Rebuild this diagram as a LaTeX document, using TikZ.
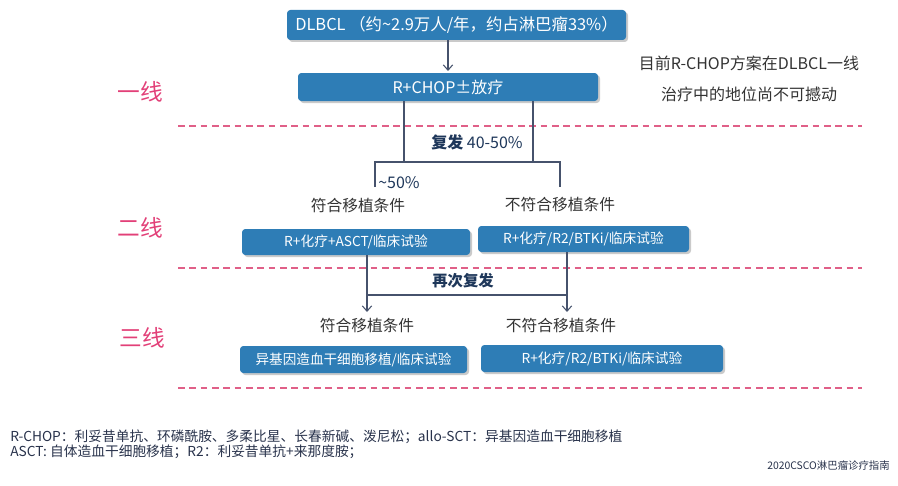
\documentclass[tikz,border=0pt]{standalone}
\usepackage{fontspec}
\setmainfont{Noto Sans CJK SC}
\usetikzlibrary{shadows,arrows.meta}
\definecolor{boxblue}{RGB}{46,125,182}
\definecolor{linecol}{RGB}{70,82,108}
\definecolor{pinktxt}{RGB}{226,64,120}
\definecolor{pinkdash}{RGB}{224,96,136}
\definecolor{navytxt}{RGB}{30,55,90}
\definecolor{foottxt}{RGB}{40,50,75}
\tikzset{
  bluebox/.style={rectangle, rounded corners=2.5pt, fill=boxblue, text=white,
    inner sep=0pt, drop shadow={shadow xshift=1.5pt, shadow yshift=-1.5pt, opacity=0.35, fill=black!60}},
  conn/.style={draw=linecol, line width=0.8pt},
  arr/.style={conn, -{Straight Barb[length=4pt,width=7pt]}},
  sep/.style={draw=pinkdash, line width=0.9pt, dash pattern=on 5pt off 3.5pt},
  linelabel/.style={text=pinktxt, font=\fontsize{17}{20}\selectfont},
  cond/.style={text=black!80, font=\fontsize{11.8}{14}\selectfont},
}
\begin{document}
\begin{tikzpicture}[x=0.75pt,y=-0.75pt]
\useasboundingbox (0,0) rectangle (898,485);
% boxes
\node[bluebox, minimum width=339*0.75pt, minimum height=30*0.75pt, font=\fontsize{12.3}{14}\selectfont] (b1) at (456.5,25) {DLBCL （约\textasciitilde2.9万人/年，约占淋巴瘤33\%）};
\node[bluebox, minimum width=300*0.75pt, minimum height=28*0.75pt, font=\fontsize{12}{14}\selectfont] (b2) at (448,87) {R+CHOP±放疗};
\node[bluebox, minimum width=228*0.75pt, minimum height=26*0.75pt, font=\fontsize{10.3}{12}\selectfont] (l2) at (356,242) {R+化疗+ASCT/临床试验};
\node[bluebox, minimum width=211*0.75pt, minimum height=26*0.75pt, font=\fontsize{10.3}{12}\selectfont] (r2) at (583.5,239) {R+化疗/R2/BTKi/临床试验};
\node[bluebox, minimum width=227*0.75pt, minimum height=27*0.75pt, font=\fontsize{10.2}{12}\selectfont] (l3) at (353.5,359.5) {异基因造血干细胞移植/临床试验};
\node[bluebox, minimum width=242*0.75pt, minimum height=27*0.75pt, font=\fontsize{10.3}{12}\selectfont] (r3) at (602,358.5) {R+化疗/R2/BTKi/临床试验};
% line labels
\node[linelabel] (t1) at (140,92) {一线};
\node[linelabel] (t2) at (140,228) {二线};
\node[linelabel] (t3) at (142,338) {三线};
% separators
\coordinate (s1a) at (178,126); \coordinate (s1b) at (862,126);
\coordinate (s2a) at (178,268); \coordinate (s2b) at (862,268);
\coordinate (s3a) at (178,388); \coordinate (s3b) at (862,388);
\draw[sep] (s1a) -- (s1b);
\draw[sep] (s2a) -- (s2b);
\draw[sep] (s3a) -- (s3b);
% arrow b1 -> b2
\coordinate (a1) at (448,40);
\coordinate (a2) at (448,71);
\draw[arr] (a1) -- (a2);
% upper bracket
\coordinate (u1) at (404,162); \coordinate (u2) at (533,162);
\coordinate (h1) at (375,162); \coordinate (h2) at (560,162);
\coordinate (d1) at (375,187); \coordinate (d2) at (560,187);
\draw[conn] (b2.south -| u1) -- (u1);
\draw[conn] (b2.south -| u2) -- (u2);
\draw[conn] (d1) -- (h1) -- (h2) -- (d2);
\node[text=navytxt, font=\fontsize{12}{14}\selectfont] (rel) at (477,142) {\textbf{复发} 40-50\%};
\node[anchor=west, text=navytxt, font=\fontsize{12}{14}\selectfont, inner sep=0pt] (p50) at (378,183) {\textasciitilde50\%};
\node[cond] (c1) at (358,206) {符合移植条件};
\node[cond] (c2) at (560,205) {不符合移植条件};
% lower bracket
\coordinate (m1) at (367,295); \coordinate (m2) at (567,295);
\coordinate (e1) at (367,312); \coordinate (e2) at (567,312);
\draw[arr] (l2.south -| m1) -- (e1);
\draw[arr] (r2.south -| m2) -- (e2);
\draw[conn] (m1) -- (m2);
\node[text=navytxt, font=\bfseries\fontsize{11.5}{14}\selectfont] (rel2) at (463,281) {再次复发};
\node[cond] (c3) at (367,326) {符合移植条件};
\node[cond] (c4) at (561,326) {不符合移植条件};
% right note
\node[text=black!80, font=\fontsize{12}{14}\selectfont] (n1) at (749,63) {目前R-CHOP方案在DLBCL一线};
\node[text=black!80, font=\fontsize{12}{14}\selectfont] (n2) at (749,94) {治疗中的地位尚不可撼动};
% footnotes
\node[anchor=west, text=foottxt, font=\fontsize{10.3}{12}\selectfont, inner sep=0pt] (f1) at (10,437) {R-CHOP：利妥昔单抗、环磷酰胺、多柔比星、长春新碱、泼尼松；allo-SCT：异基因造血干细胞移植};
\node[anchor=west, text=foottxt, font=\fontsize{10.3}{12}\selectfont, inner sep=0pt] (f2) at (10,452) {ASCT: 自体造血干细胞移植；R2：利妥昔单抗+来那度胺；};
\node[anchor=east, text=foottxt, font=\fontsize{7.8}{9}\selectfont, inner sep=0pt] (src) at (890,466) {2020CSCO淋巴瘤诊疗指南};
\end{tikzpicture}
\end{document}
